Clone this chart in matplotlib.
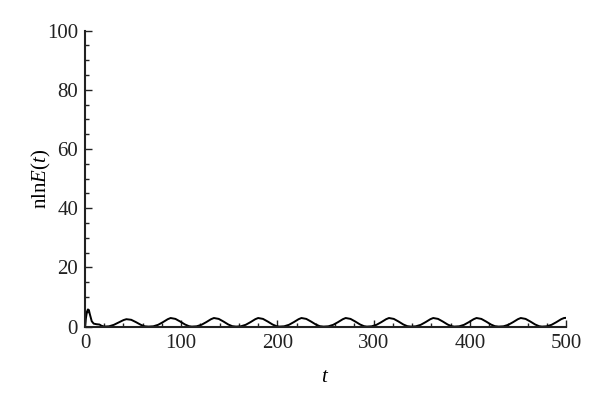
import matplotlib
matplotlib.use("Agg")
import matplotlib.pyplot as plt
from matplotlib.ticker import MultipleLocator

plt.rcParams['font.family'] = ['Liberation Serif', 'DejaVu Serif']
plt.rcParams['mathtext.fontset'] = 'custom'
plt.rcParams['mathtext.rm'] = 'Liberation Serif'
plt.rcParams['mathtext.it'] = 'Liberation Serif:italic'

# initial transient
t_start = [0, 1, 2, 3, 4, 5, 7, 9, 12, 15, 17]
v_start = [0, 3.0, 5.0, 5.8, 5.6, 4.2, 1.8, 1.0, 0.8, 0.7, 0.3]

# periodic humps (t, value)
t_humps = [20, 25, 30, 35, 40, 43, 48, 53, 58, 62,
           66, 71, 76, 81, 86, 89, 94, 99, 104, 108,
           111, 116, 121, 126, 131, 134, 139, 144, 149, 153,
           157, 162, 167, 172, 177, 180, 185, 190, 195, 199,
           202, 207, 212, 217, 222, 225, 230, 235, 240, 244,
           248, 253, 258, 263, 268, 271, 276, 281, 286, 290,
           293, 298, 303, 308, 313, 316, 321, 326, 331, 335,
           339, 344, 349, 354, 359, 362, 367, 372, 377, 381,
           384, 389, 394, 399, 404, 407, 412, 417, 422, 426,
           430, 435, 440, 445, 450, 453, 458, 463, 468, 472,
           475, 480, 485, 490, 495, 498, 500]
v_humps = [0, 0.1, 0.6, 1.4, 2.2, 2.5, 2.3, 1.5, 0.6, 0.1,
           0, 0.1, 0.6, 1.5, 2.5, 2.9, 2.6, 1.7, 0.7, 0.15,
           0, 0.1, 0.6, 1.5, 2.5, 2.9, 2.6, 1.7, 0.7, 0.15,
           0, 0.1, 0.6, 1.5, 2.5, 2.9, 2.6, 1.7, 0.7, 0.15,
           0, 0.1, 0.6, 1.5, 2.5, 2.9, 2.6, 1.7, 0.7, 0.15,
           0, 0.1, 0.6, 1.5, 2.5, 2.9, 2.6, 1.7, 0.7, 0.15,
           0, 0.1, 0.6, 1.5, 2.5, 2.9, 2.6, 1.7, 0.7, 0.15,
           0, 0.1, 0.6, 1.5, 2.5, 2.9, 2.6, 1.7, 0.7, 0.15,
           0, 0.1, 0.6, 1.5, 2.5, 2.9, 2.6, 1.7, 0.7, 0.15,
           0, 0.1, 0.6, 1.5, 2.5, 2.9, 2.6, 1.7, 0.7, 0.15,
           0, 0.1, 0.6, 1.5, 2.5, 2.9, 2.95]

t = t_start + t_humps
v = v_start + v_humps

x_ticks = [0, 100, 200, 300, 400, 500]
y_ticks = [0, 20, 40, 60, 80, 100]

fig = plt.figure(figsize=(6, 4.05), dpi=100)
ax = fig.add_axes([0.1417, 0.1936, 0.8016, 0.7306])
ax.plot(t, v, color='black', lw=1.4)

ax.set_xlim(0, 500)
ax.set_ylim(0, 100)
ax.set_xticks(x_ticks)
ax.set_yticks(y_ticks)
ax.xaxis.set_minor_locator(MultipleLocator(20))
ax.yaxis.set_minor_locator(MultipleLocator(5))
ax.tick_params(which='both', direction='in', labelsize=15, width=1.0, colors='#222222')
ax.tick_params(which='major', length=5)
ax.tick_params(which='minor', length=3)
ax.tick_params(axis='x', pad=5)
ax.tick_params(axis='y', pad=5)

for s in ['top', 'right']:
    ax.spines[s].set_visible(False)
for s in ['left', 'bottom']:
    ax.spines[s].set_linewidth(1.5)
    ax.spines[s].set_color('#222222')

ax.set_xlabel('$t$', fontsize=15, labelpad=11)
ax.set_ylabel('nln$E$($t$)', fontsize=15, labelpad=-4)

fig.savefig('out.png', dpi=100)
